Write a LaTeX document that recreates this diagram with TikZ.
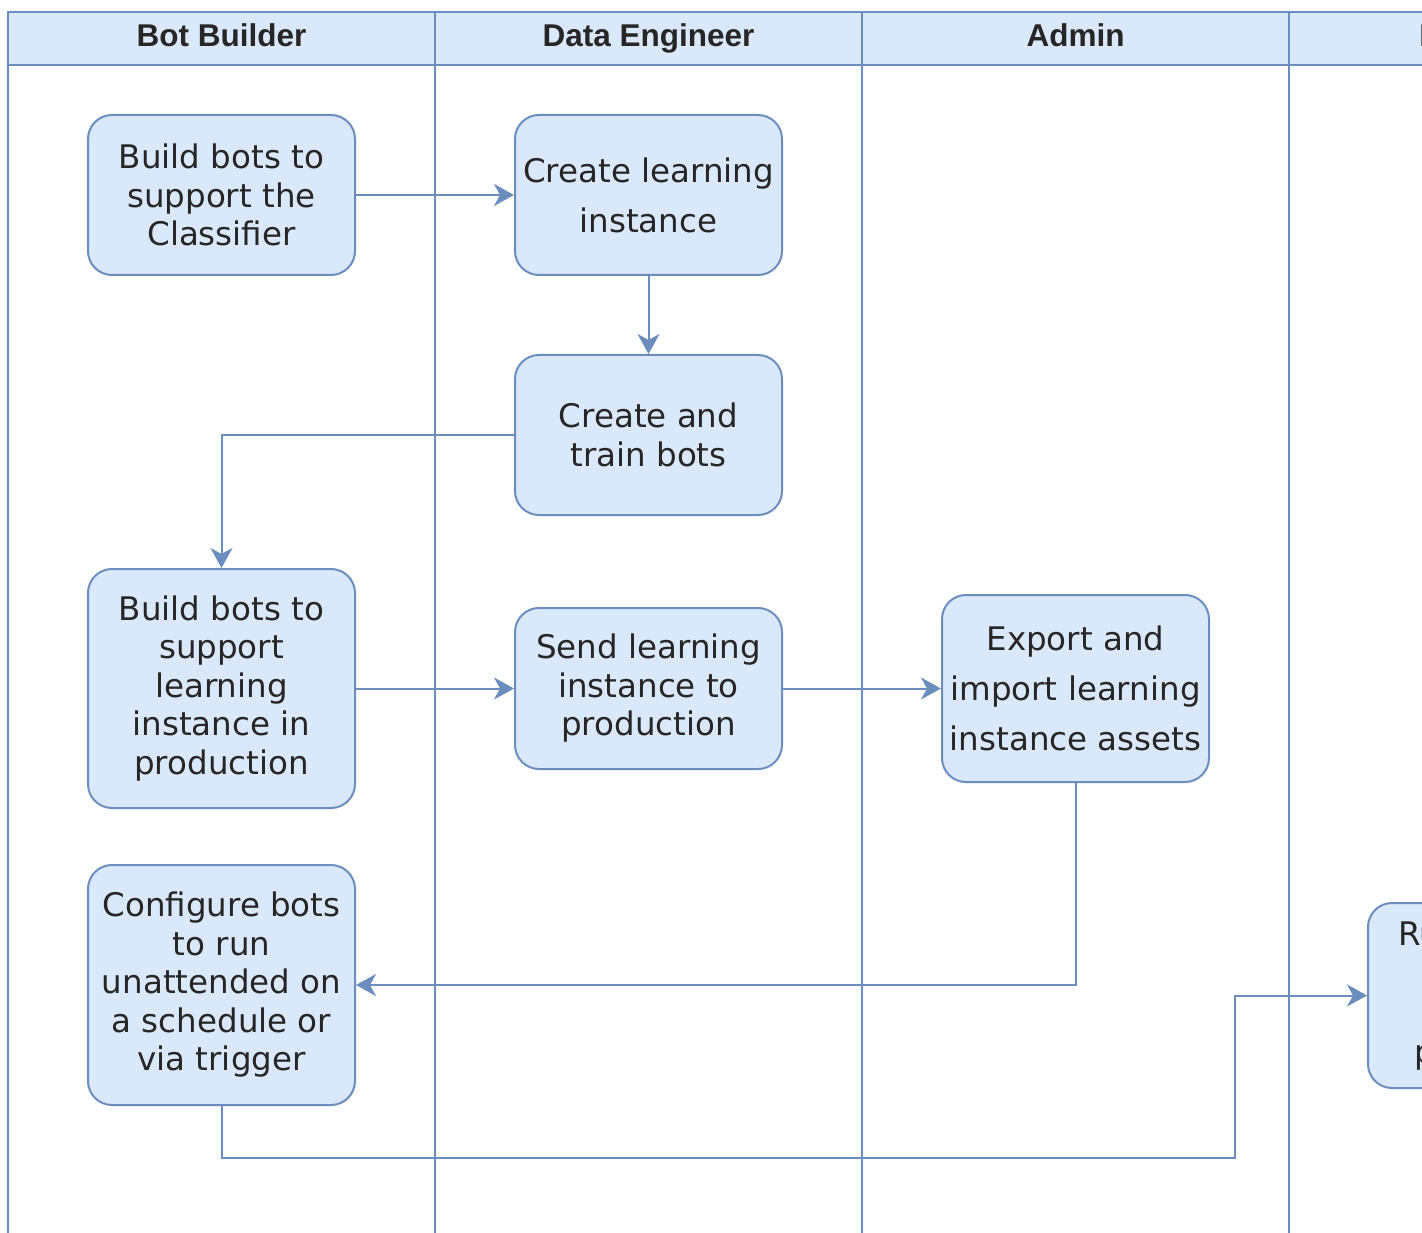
\documentclass[tikz,border=0pt]{standalone}
\usepackage{fontspec}
\setmainfont{DejaVu Sans}
\newfontfamily\hdrfont{Liberation Sans}
\usetikzlibrary{arrows.meta}
\definecolor{lanestroke}{HTML}{6C8EBF}
\definecolor{lanefill}{HTML}{DAE8FC}
\definecolor{txt}{HTML}{262626}
\tikzset{
  hdr/.style={draw=lanestroke, fill=lanefill, line width=2pt, minimum width=427pt, minimum height=53pt, inner sep=0pt, text height=23pt, text depth=7pt, font=\hdrfont\bfseries\fontsize{31.5}{36}\selectfont, text=txt},
  stepbox/.style={draw=lanestroke, fill=lanefill, line width=2pt, rounded corners=24pt, minimum width=267pt, inner sep=0pt, align=center, text=txt, font=\fontsize{32.5}{38.5}\selectfont},
  wide/.style={font=\fontsize{32.5}{50}\selectfont},
  flow/.style={draw=lanestroke, line width=2pt, -{Stealth[length=20pt,width=22pt,inset=6pt]}},
  laneline/.style={draw=lanestroke, line width=2pt}
}
\begin{document}
\begin{tikzpicture}[x=1pt,y=-1pt]
\useasboundingbox (0,0) rectangle (1422,1233);
\fill[white] (0,0) rectangle (1422,1233);
\clip (0,0) rectangle (1422,1233);
% lanes
\foreach \xx in {8,435,862,1289,1716} {\draw[laneline] (\xx,12) -- (\xx,1245);}
\node[hdr] (h1) at (221.5,38.5) {Bot Builder};
\node[hdr] (h2) at (648.5,38.5) {Data Engineer};
\node[hdr] (h3) at (1075.5,38.5) {Admin};
\node[hdr] (h4) at (1502.5,38.5) {Production};
% nodes
\node[stepbox, minimum height=160pt] (n1) at (221.5,195) {Build bots to\\support the\\Classifier};
\node[stepbox, wide, minimum height=160pt] (n2) at (648.5,195) {Create learning\\instance};
\node[stepbox, minimum height=160pt] (n3) at (648.5,435) {Create and\\train bots};
\node[stepbox, minimum height=239pt] (n4) at (221.5,688.5) {Build bots to\\support\\learning\\instance in\\production};
\node[stepbox, minimum height=161pt] (n5) at (648.5,688.5) {Send learning\\instance to\\production};
\node[stepbox, wide, minimum height=187pt] (n6) at (1075.5,688.5) {Export and\\import learning\\instance assets};
\node[stepbox, minimum height=240pt] (n7) at (221.5,985) {Configure bots\\to run\\unattended on\\a schedule or\\via trigger};
\node[stepbox, font=\fontsize{32.5}{59}\selectfont, minimum height=185pt] (n8) at (1501.5,995.5) {Run the bots\\in\\production};
% connectors
\draw[flow] (n1) -- (n2);
\draw[flow] (n2) -- (n3);
\draw[flow] (n3.west) -| (n4.north);
\draw[flow] (n4) -- (n5);
\draw[flow] (n5) -- (n6);
\draw[flow] (n6.south) |- (n7.east);
\coordinate (c1) at (1235,1158);
\draw[flow] (n7.south) |- (c1) |- (n8.west);
\end{tikzpicture}
\end{document}
